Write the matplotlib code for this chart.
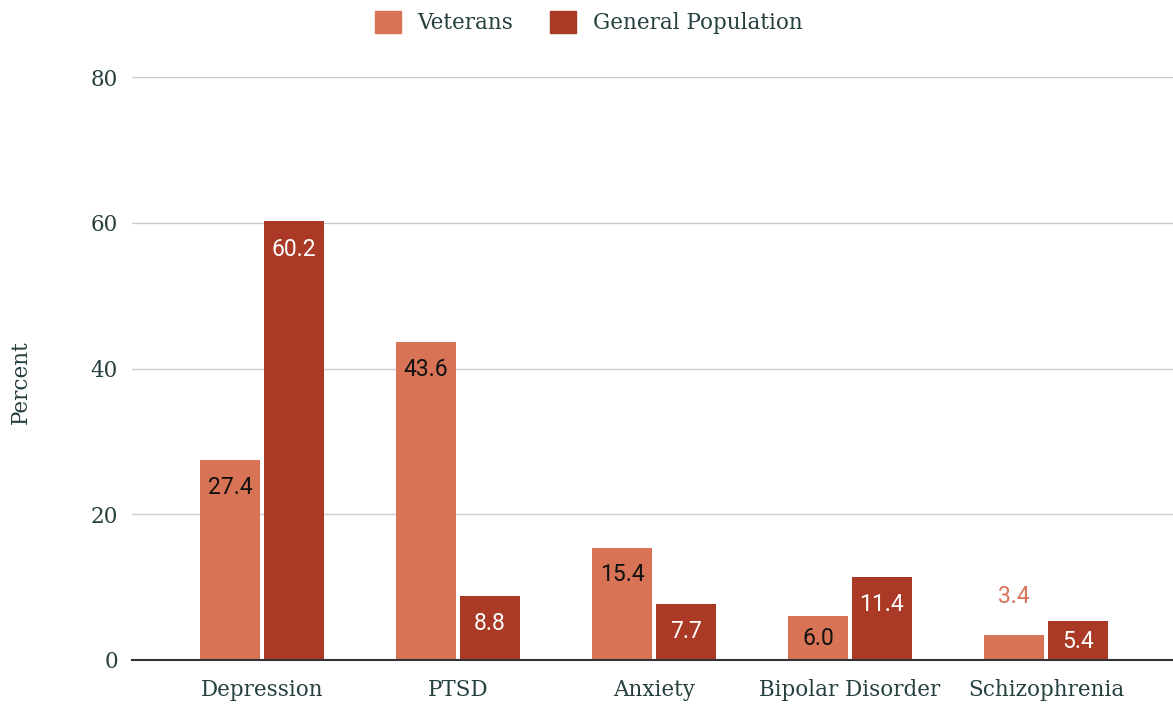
import matplotlib.pyplot as plt
import numpy as np
from matplotlib.patches import Patch

categories = ["Depression", "PTSD", "Anxiety", "Bipolar Disorder", "Schizophrenia"]
veterans = [27.4, 43.6, 15.4, 6.0, 3.4]
general = [60.2, 8.8, 7.7, 11.4, 5.4]
y_ticks = [0, 20, 40, 60, 80]

c_vet = "#D87356"
c_gen = "#AA3A26"
c_text = "#25403F"

fig = plt.figure(figsize=(11.73, 7.07), dpi=100)
ax = fig.add_axes([0.1125, 0.0665, 0.8875, 0.8245])

x = np.arange(len(categories))
w = 0.306
off = 0.163
ax.bar(x - off, veterans, w, color=c_vet, zorder=3)
ax.bar(x + off, general, w, color=c_gen, zorder=3)

px_per_unit = 583 / 80.0  # pixel height of one percent

def label_offset(v):
    # label sits ~27px under the bar top, or mid-bar when the bar is short
    return -min(27, v * px_per_unit / 2)

# value labels
for xi, v in zip(x - off, veterans):
    if v < 5:
        ax.annotate("%.1f" % v, (xi, v), xytext=(0, 39), textcoords="offset pixels",
                    ha="center", va="center", color=c_vet, fontsize=16.5, family="Roboto")
    else:
        ax.annotate("%.1f" % v, (xi, v), xytext=(0, label_offset(v)), textcoords="offset pixels",
                    ha="center", va="center", color="#111111", fontsize=16.5, family="Roboto")
for xi, v in zip(x + off, general):
    ax.annotate("%.1f" % v, (xi, v), xytext=(0, label_offset(v) - 1), textcoords="offset pixels",
                ha="center", va="center", color="white", fontsize=16.5, family="Roboto")

ax.set_xlim(-0.663, 4.648)
ax.set_ylim(0, 80)
ax.set_yticks(y_ticks)
ax.set_yticklabels([str(t) for t in y_ticks], family="DejaVu Serif", fontsize=15.5, color=c_text)
ax.set_xticks(x)
ax.set_xticklabels(categories, family="DejaVu Serif", fontsize=15.5, color=c_text)
ax.tick_params(axis="y", length=0, pad=10)
ax.tick_params(axis="x", length=0, pad=14)
ax.grid(axis="y", color="#CCCCCC", linewidth=1, zorder=0)
for s in ["top", "right", "left"]:
    ax.spines[s].set_visible(False)
ax.spines["bottom"].set_color("#333333")
ax.spines["bottom"].set_linewidth(1.5)
ax.spines["bottom"].set_zorder(4)

fig.text(0.018, 0.46, "Percent", rotation=90, ha="center", va="center",
         family="DejaVu Serif", fontsize=15.5, color=c_text)

handles = [Patch(color=c_vet, label="Veterans"), Patch(color=c_gen, label="General Population")]
leg = fig.legend(handles=handles, loc="upper center", bbox_to_anchor=(0.502, 1.012), ncol=2,
                 frameon=False, handlelength=1.2, handleheight=1.2, columnspacing=1.7,
                 handletextpad=0.8, prop={"family": "DejaVu Serif", "size": 15.5})
for t in leg.get_texts():
    t.set_color(c_text)

fig.savefig("out.png", dpi=100)
